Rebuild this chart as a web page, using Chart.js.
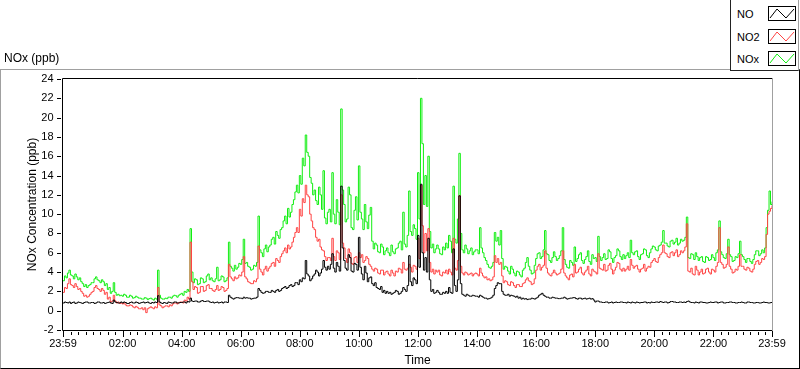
<!DOCTYPE html>
<html>
<head>
<meta charset="utf-8">
<script src="https://cdn.jsdelivr.net/npm/chart.js@4.4.1/dist/chart.umd.min.js"></script>
<style>
html,body{margin:0;padding:0;background:#fff;}
#wrap{position:relative;width:800px;height:369px;overflow:hidden;font-family:"Liberation Sans",Arial,sans-serif;color:#000;}
#chart{position:absolute;left:0;top:0;}
#frame{position:absolute;left:0;top:69px;width:800px;height:300px;box-sizing:border-box;border-top:1px solid #a0a0a0;border-left:1px solid #a0a0a0;border-right:1px solid #000;border-bottom:1px solid #000;pointer-events:none;}
#ptitle{position:absolute;left:4px;top:51px;font-size:12px;line-height:14px;white-space:nowrap;}
#legend{position:absolute;left:730px;top:0;width:69px;height:71px;box-sizing:border-box;border-left:1px solid #222;border-bottom:1px solid #222;border-right:1px solid #a0a0a0;background:#fff;}
.row{position:absolute;left:0;width:67px;height:16px;}
.row span{position:absolute;left:6px;top:1px;font-size:11px;line-height:14px;white-space:nowrap;}
.row svg{position:absolute;left:37px;top:0;}
</style>
</head>
<body>
<div id="wrap">
<canvas id="chart" width="800" height="369"></canvas>
<div id="frame"></div>
<div id="ptitle">NOx (ppb)</div>
<div id="legend"></div>
</div>
<script>
// ---------- data (3-minute samples from 23:59 to 23:59, 20 per hour) ----------
const stepMinutes = 3;
const tickMinutes = [0,121,241,361,481,601,721,841,961,1081,1201,1321,1440];
const tickLabels = ['23:59','02:00','04:00','06:00','08:00','10:00','12:00','14:00','16:00','18:00','20:00','22:00','23:59'];
const seriesNames = ['NO','NO2','NOx'];
const seriesColors = ['#000000','#ff4444','#11ee11'];
const yTickValues = [-2,0,2,4,6,8,10,12,14,16,18,20,22,24];

const noValues = [
0.8,0.9,0.85,0.8,0.9,0.75,0.85,0.9,0.75,0.8,0.9,0.85,0.8,0.75,0.85,0.9,0.9,0.8,0.8,0.85,
0.85,0.75,0.8,0.9,0.9,0.8,0.8,0.85,0.75,0.8,0.85,0.9,0.8,0.75,1.1,0.9,0.85,0.8,0.8,0.9,
0.8,0.9,0.85,0.75,0.75,0.85,0.9,0.8,0.8,0.9,0.85,0.75,0.8,0.85,0.9,0.8,0.85,0.9,0.8,0.75,
0.85,0.8,0.9,0.85,1.55,0.9,0.8,0.75,0.85,0.8,0.75,0.9,0.85,0.8,0.8,0.9,0.9,0.8,0.8,0.85,
0.85,0.9,0.9,0.8,0.95,0.9,1.3,1.0,0.95,1.0,1.0,0.9,0.9,1.0,1.05,0.95,0.95,1.0,1.0,0.9,
0.85,0.9,0.8,0.85,0.9,0.8,0.85,0.9,0.8,0.9,0.9,0.85,1.6,1.4,1.3,1.2,1.3,1.35,1.35,1.3,
1.3,1.25,1.4,1.3,1.35,1.3,1.3,1.2,1.25,1.3,1.3,1.4,2.3,2.1,1.9,1.8,1.85,2.0,2.0,1.9,
1.9,2.1,2.0,1.9,2.1,2.2,2.0,2.1,2.3,2.4,2.5,2.3,2.4,2.6,2.7,2.5,2.6,2.9,2.9,2.7,
3.2,3.0,3.4,3.3,5.2,3.8,3.6,3.1,3.3,3.6,3.8,4.2,4.0,3.6,3.9,4.3,5.2,4.5,4.2,4.6,
4.3,4.8,5.9,4.4,4.0,5.0,4.6,4.1,12.9,6.5,5.2,4.4,4.2,5.8,5.5,4.1,4.0,4.9,4.8,4.2,
7.6,4.5,3.8,3.2,4.6,3.9,3.0,3.4,3.5,2.8,2.6,2.9,2.4,2.3,2.2,2.5,1.9,2.1,1.8,2.0,
1.8,1.9,1.7,1.8,1.9,2.1,2.0,1.7,1.8,2.0,2.4,2.2,2.0,2.6,5.7,3.0,2.6,3.4,3.2,2.8,
7.8,4.5,13.1,6.0,4.2,5.5,4.0,7.5,3.2,2.0,2.2,1.8,1.9,2.1,1.9,1.7,1.7,1.9,1.8,2.0,
1.8,2.4,1.9,1.8,6.4,2.6,2.0,3.2,11.9,2.8,1.7,1.6,1.5,1.7,1.6,1.5,1.5,1.6,1.55,1.5,
1.5,1.4,1.6,1.5,1.4,1.3,1.3,1.2,1.25,1.3,1.4,1.6,2.3,2.6,2.9,2.8,2.8,2.0,1.7,1.6,
1.6,1.7,1.5,1.6,1.55,1.5,1.4,1.5,1.3,1.4,1.2,1.3,1.2,1.25,1.15,1.2,1.2,1.3,1.25,1.2,
1.3,1.4,1.6,1.7,1.8,1.6,1.5,1.4,1.4,1.3,1.3,1.4,1.35,1.3,1.3,1.25,1.25,1.3,1.3,1.4,
1.3,1.2,1.25,1.3,1.3,1.35,1.35,1.25,1.2,1.3,1.3,1.2,1.25,1.3,1.2,1.25,1.3,1.2,1.25,1.1,
0.9,1.0,1.0,0.9,0.9,0.85,0.85,0.9,0.9,0.8,0.85,0.9,0.8,0.85,0.9,0.85,0.85,0.9,0.9,0.85,
0.85,0.8,0.9,0.85,0.8,0.9,0.85,0.8,0.9,0.85,0.8,0.85,0.85,0.9,0.9,0.8,0.85,0.8,0.9,0.85,
0.85,0.9,0.9,0.85,0.95,0.9,0.85,0.9,0.9,0.8,0.85,0.95,0.95,0.9,0.9,0.85,0.85,0.9,0.9,0.85,
0.9,0.85,0.95,1.0,0.9,0.85,0.85,0.8,0.9,0.85,0.8,0.9,0.9,0.85,0.85,0.8,0.8,0.85,0.9,0.85,
0.85,0.9,0.9,0.8,0.85,0.9,0.9,0.8,0.8,0.85,0.85,0.9,0.9,0.85,0.85,0.8,0.8,0.85,0.85,0.9,
0.85,0.8,0.8,0.9,0.9,0.85,0.85,0.8,0.8,0.85,0.85,0.8,0.8,0.85,0.9,0.85,0.85,0.8,0.8,0.85,0.8
];

const no2Values = [
1.9,2.4,2.3,2.8,3.3,2.7,2.6,2.4,2.8,2.5,2.2,2.3,2.0,1.8,1.5,1.6,1.4,1.5,1.7,1.9,
2.0,2.4,2.6,2.3,2.2,2.0,2.3,2.1,1.7,1.9,1.2,1.4,0.9,1.0,1.6,1.0,0.8,0.9,0.75,0.8,
0.7,0.8,0.6,0.5,0.5,0.6,0.55,0.4,0.3,0.45,0.35,0.2,0.2,0.3,0.1,0.3,-0.2,0.2,0.3,0.4,
0.3,0.2,0.4,0.3,2.4,0.6,0.5,0.3,0.4,0.5,0.5,0.4,0.6,0.5,0.7,0.8,0.8,0.7,0.85,0.9,
0.9,0.8,1.1,1.0,1.4,1.2,7.1,3.0,2.2,2.5,2.4,1.8,1.9,2.5,2.5,2.0,2.1,2.6,2.7,2.3,
2.3,2.1,2.0,2.2,2.6,2.1,2.2,2.5,2.4,2.0,2.1,2.3,4.8,3.5,3.3,3.1,3.5,3.3,3.4,3.7,
3.6,4.0,5.6,3.5,3.3,3.0,2.9,2.8,2.8,3.1,3.0,3.3,6.7,4.3,4.0,3.7,4.3,4.6,4.1,4.4,
4.6,4.9,5.0,4.6,5.4,5.2,5.0,5.6,5.9,6.2,6.5,6.0,6.8,6.4,6.6,7.1,7.6,8.1,8.6,8.1,
10.5,9.8,11.6,11.2,13.0,12.0,11.8,10.0,9.3,8.6,8.4,7.6,7.2,7.4,6.6,6.3,6.2,5.6,5.2,5.5,
5.5,5.2,7.5,5.6,5.2,6.2,6.0,5.3,12.0,7.0,6.5,5.4,5.0,6.4,6.0,4.9,4.8,5.5,5.6,5.0,
6.0,5.5,5.8,5.0,5.2,5.6,5.4,4.8,4.6,4.3,4.1,4.4,4.3,3.9,3.8,4.2,4.2,3.7,4.0,4.1,
3.8,3.6,4.2,3.9,3.6,4.1,4.0,4.4,4.3,3.9,5.0,4.3,4.2,4.4,4.8,4.5,4.0,4.7,4.6,4.3,
7.5,5.4,13.0,8.8,6.0,8.0,6.2,8.5,5.0,4.0,4.3,3.8,4.2,4.0,4.2,3.7,3.6,4.0,3.9,4.2,
3.8,4.3,4.0,3.7,7.5,4.4,4.2,5.2,11.9,4.6,3.9,3.7,4.0,3.9,3.7,3.8,3.9,3.6,3.8,3.9,
3.8,3.6,4.4,3.9,3.6,3.4,3.5,3.2,3.3,3.1,3.2,3.5,5.7,5.0,5.4,4.8,5.0,3.6,2.9,3.1,
3.0,2.7,2.6,3.0,2.9,2.6,2.4,2.7,2.7,2.5,2.5,2.8,2.9,3.2,3.4,3.1,3.0,2.7,2.8,3.3,
4.2,4.6,4.8,4.2,4.5,4.7,6.2,4.4,3.9,3.7,3.6,3.9,4.2,3.9,3.7,3.8,3.9,4.3,6.2,3.9,
3.6,3.4,3.2,3.7,3.8,3.5,4.8,3.9,4.0,4.3,4.5,3.9,3.7,4.0,4.2,4.6,3.8,3.6,4.3,4.1,
4.0,3.8,5.9,4.4,4.3,4.2,4.8,4.1,4.2,4.7,4.9,4.3,3.8,4.2,4.5,5.0,4.9,4.3,4.1,4.4,
4.1,4.3,4.6,4.2,5.3,4.7,4.4,4.6,4.7,4.3,4.0,4.3,4.4,4.8,4.1,4.4,4.6,4.5,5.0,5.2,
5.4,5.1,5.0,5.5,5.8,6.0,6.8,6.0,5.9,5.6,5.5,6.0,6.1,5.7,6.0,6.3,5.6,5.8,6.2,6.0,
6.2,6.6,9.0,4.1,4.0,4.4,3.8,3.7,4.6,4.2,3.7,4.0,4.3,3.8,3.9,4.3,4.4,4.0,3.8,4.3,
4.2,4.0,4.6,5.0,8.6,5.0,4.8,4.4,4.5,4.8,6.6,4.6,4.3,3.9,4.0,4.3,4.2,4.6,5.8,4.6,
4.6,4.3,4.2,4.5,4.4,4.1,4.0,4.3,4.8,5.1,5.2,4.8,5.0,5.4,5.3,5.6,7.9,10.0,10.3,10.6,10.9
];

const noxValues = [
3.1,3.6,3.4,3.9,4.2,3.7,3.6,3.3,3.8,3.5,3.2,3.4,3.0,2.8,2.5,2.7,2.4,2.6,2.7,2.9,
2.9,3.3,3.5,3.2,3.1,2.9,3.2,3.0,2.6,2.8,2.2,2.4,1.8,2.0,2.9,1.9,1.6,1.7,1.55,1.6,
1.5,1.7,1.6,1.4,1.4,1.6,1.5,1.3,1.35,1.5,1.4,1.3,1.3,1.2,1.2,1.35,1.3,1.15,1.25,1.3,
1.2,1.1,1.3,1.2,4.2,1.6,1.3,1.2,1.2,1.3,1.25,1.4,1.4,1.3,1.5,1.6,1.55,1.4,1.6,1.7,
1.8,1.6,2.0,1.9,2.2,2.0,8.5,4.0,2.9,3.3,3.2,2.7,2.8,3.4,3.3,2.9,3.0,3.6,3.8,3.2,
3.4,3.1,3.0,3.3,4.5,3.1,3.2,3.6,3.5,3.0,3.1,3.4,7.1,4.6,4.4,4.1,4.7,4.3,4.5,4.9,
4.8,5.3,7.4,4.9,5.0,4.6,4.5,4.2,4.3,4.7,4.6,5.0,9.8,6.3,6.0,5.6,6.4,6.8,6.1,6.6,
6.8,7.4,7.6,6.9,8.2,7.8,7.5,8.4,8.6,9.3,9.8,9.0,10.6,9.7,10.2,11.0,11.5,12.3,13.0,12.2,
14.0,13.1,15.8,15.0,18.2,16.4,16.0,13.8,13.2,12.0,12.5,11.4,11.0,12.8,12.0,10.5,14.5,9.6,9.0,10.2,
10.5,9.2,14.3,10.0,9.0,11.5,10.2,8.9,20.9,12.5,11.0,9.2,9.5,12.8,12.0,8.6,8.4,10.4,11.8,9.4,
15.0,10.2,9.5,8.4,11.0,9.2,8.5,9.9,10.7,7.2,6.4,7.0,6.8,6.1,6.0,6.9,6.6,5.8,6.2,6.5,
6.0,5.7,6.8,6.1,5.9,6.4,6.5,7.0,7.2,6.3,10.2,6.9,6.6,7.8,12.4,8.2,7.8,8.9,8.5,7.4,
14.3,9.5,22.0,17.3,11.0,14.0,10.8,16.0,8.2,6.5,6.9,6.0,6.4,6.8,6.4,5.9,5.8,6.6,6.3,7.0,
6.5,7.8,7.2,6.0,12.9,7.4,7.0,9.5,16.3,8.0,6.3,6.0,6.8,6.4,5.9,6.2,6.5,5.8,6.1,6.3,
6.3,5.9,8.6,6.5,6.0,5.5,5.2,4.8,4.5,4.4,4.6,5.0,8.1,7.2,7.6,6.8,8.3,5.4,4.3,4.6,
4.5,4.1,3.8,4.6,4.3,3.9,3.6,4.1,4.0,3.7,3.5,4.2,4.4,5.0,5.5,4.6,4.2,3.8,3.9,4.7,
5.4,5.9,6.0,5.4,5.6,6.3,8.3,5.9,5.8,5.2,5.0,5.5,6.1,5.6,5.2,5.4,5.7,6.2,8.6,5.3,
4.8,4.5,4.4,5.2,5.0,4.7,6.6,5.1,5.4,5.8,6.0,5.2,4.9,5.3,5.6,6.2,5.1,4.8,5.8,5.4,
5.5,5.1,7.7,5.6,5.2,5.5,5.9,5.3,5.4,6.3,6.1,5.4,5.0,5.5,5.7,6.4,6.2,5.6,5.3,5.8,
5.4,5.7,6.0,5.5,7.3,6.0,5.8,6.1,6.2,5.6,5.3,5.8,5.9,6.4,6.3,5.7,5.5,6.0,6.4,6.7,
6.6,6.3,6.2,6.7,6.8,7.1,8.3,7.0,7.0,6.7,6.6,7.2,7.3,6.9,7.1,7.5,6.8,7.0,7.4,7.2,
7.3,7.6,9.7,5.5,5.4,5.9,5.8,5.3,6.0,5.6,5.2,5.5,5.6,5.1,5.0,5.6,5.5,5.2,5.3,5.8,
5.5,5.2,6.0,6.3,9.3,6.1,5.8,5.5,5.4,5.9,7.4,5.8,5.6,5.1,5.2,5.6,5.5,5.9,7.2,5.8,
5.6,5.3,5.0,5.4,5.4,5.1,4.9,5.3,5.8,6.2,6.2,5.7,5.9,6.3,6.0,6.5,8.6,10.4,12.4,11.0,11.3
];

// ---------- build ----------
const toPoints = arr => arr.map((v, i) => ({x: i * stepMinutes, y: v}));
const allValues = [noValues, no2Values, noxValues];

Chart.defaults.font.family = '"Liberation Sans", Arial, sans-serif';
Chart.defaults.font.size = 11;
Chart.defaults.color = '#000';

const axisDecor = {
  id: 'axisDecor',
  afterDraw(chart) {
    const {ctx, chartArea: a, scales: {x, y}} = chart;
    ctx.save();
    ctx.lineWidth = 1;
    ctx.strokeStyle = '#000';
    ctx.beginPath();
    ctx.moveTo(62.5, a.bottom + 0.5);
    ctx.lineTo(62.5, a.top - 0.5);
    ctx.lineTo(a.right, a.top - 0.5);
    ctx.moveTo(62.5, a.bottom + 0.5);
    ctx.lineTo(a.right, a.bottom + 0.5);
    ctx.stroke();
    ctx.strokeStyle = '#a0a0a0';
    ctx.beginPath();
    ctx.moveTo(a.right + 0.5, a.top - 1);
    ctx.lineTo(a.right + 0.5, a.bottom + 1);
    ctx.stroke();
    ctx.strokeStyle = '#000';
    ctx.beginPath();
    yTickValues.forEach(v => {
      const py = Math.round(y.getPixelForValue(v)) + 0.5;
      ctx.moveTo(57, py); ctx.lineTo(61, py);
    });
    for (let m = 1; m <= 1440; m += 15) {
      const px = Math.round(x.getPixelForValue(m)) + 0.5;
      ctx.moveTo(px, a.bottom + 2); ctx.lineTo(px, a.bottom + 5);
    }
    tickMinutes.forEach(m => {
      const px = Math.round(x.getPixelForValue(m)) + 0.5;
      ctx.moveTo(px, a.bottom + 1); ctx.lineTo(px, a.bottom + 7);
    });
    ctx.stroke();
    ctx.restore();
  }
};

new Chart(document.getElementById('chart'), {
  type: 'line',
  data: {
    datasets: seriesNames.map((name, k) => ({
      label: name,
      data: toPoints(allValues[k]),
      borderColor: seriesColors[k],
      backgroundColor: seriesColors[k],
      borderWidth: 1,
      pointRadius: 0,
      stepped: true,
      fill: false
    }))
  },
  options: {
    responsive: false,
    animation: false,
    events: [],
    layout: {padding: {top: 79, right: 28, left: 0, bottom: 0}},
    plugins: {legend: {display: false}, tooltip: {enabled: false}},
    scales: {
      x: {
        type: 'linear',
        min: 0, max: 1440,
        grid: {display: false, drawTicks: false},
        border: {display: false},
        afterBuildTicks: s => { s.ticks = tickMinutes.map(v => ({value: v})); },
        afterFit: s => { s.height = 39; },
        ticks: {
          autoSkip: false, maxRotation: 0, padding: 7,
          callback: (v, i) => tickLabels[i]
        },
        title: {display: true, text: 'Time', font: {size: 12}, padding: {top: 0, bottom: 1.5}}
      },
      y: {
        min: -2, max: 24,
        grid: {display: false, drawTicks: false},
        border: {display: false},
        afterBuildTicks: s => { s.ticks = yTickValues.map(v => ({value: v})); },
        afterFit: s => { s.width = 63; },
        ticks: {padding: 9.5, callback: v => String(v)},
        title: {display: true, text: 'NOx Concentration (ppb)', font: {size: 12}, padding: {top: 25, bottom: 0}}
      }
    }
  },
  plugins: [axisDecor]
});

// ---------- legend ----------
const legend = document.getElementById('legend');
const rowTops = [6, 29, 51];
seriesNames.forEach((name, k) => {
  const row = document.createElement('div');
  row.className = 'row';
  row.style.top = rowTops[k] + 'px';
  row.innerHTML = '<span>' + name + '</span>' +
    '<svg width="28" height="15" viewBox="0 0 28 15">' +
    '<rect x="0.5" y="0.5" width="27" height="14" fill="#fff" stroke="#000"/>' +
    '<polyline points="2,12 9,3 18,12 26,3" fill="none" stroke="' + seriesColors[k] + '" stroke-width="1"/></svg>';
  legend.appendChild(row);
});
</script>
</body>
</html>
